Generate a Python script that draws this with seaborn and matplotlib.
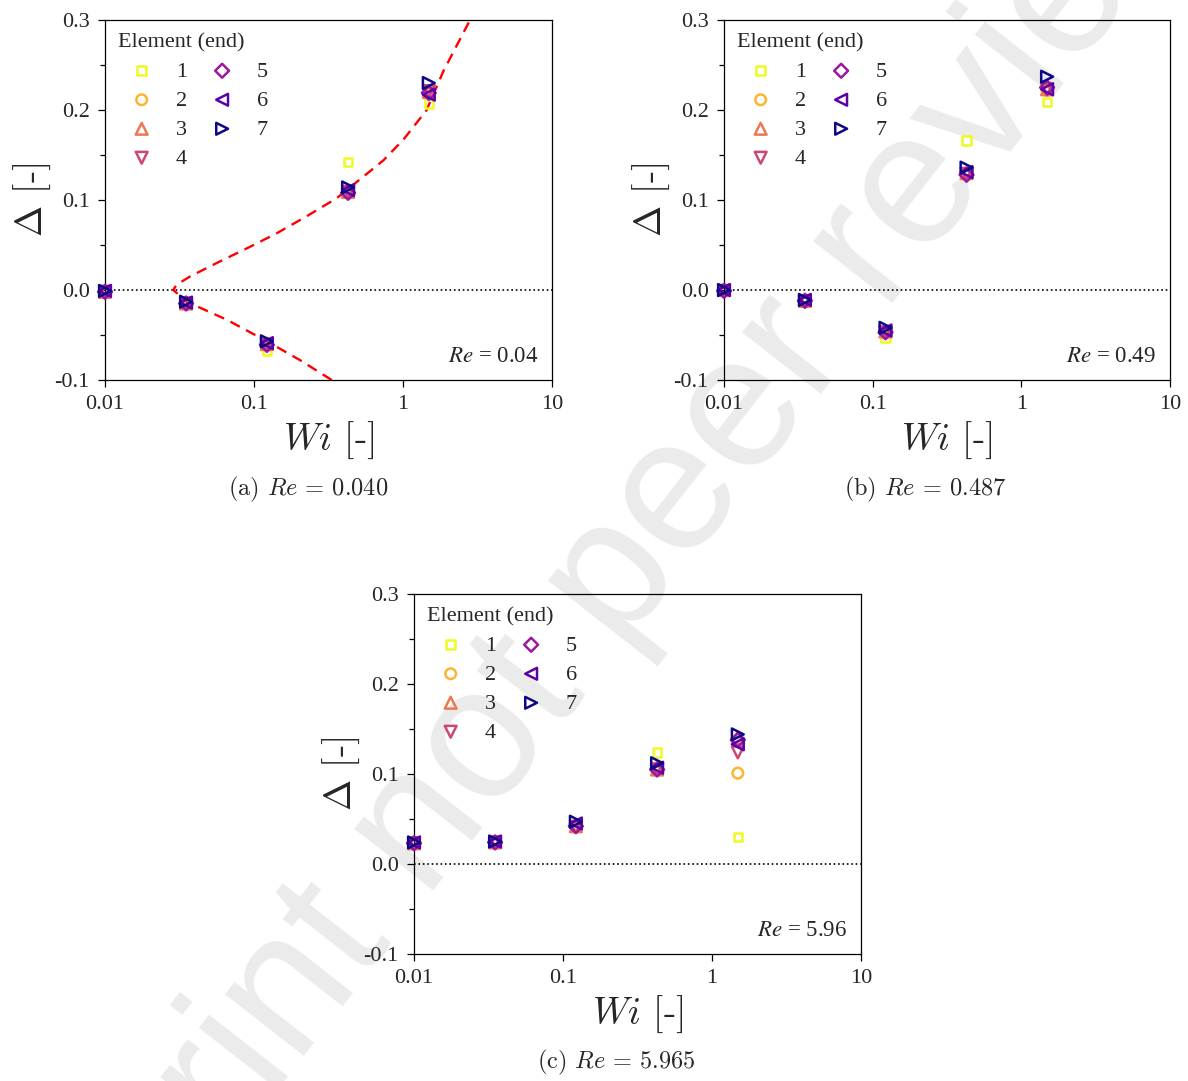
import numpy as np
import pandas as pd
import seaborn as sns
import matplotlib as mpl
import matplotlib.pyplot as plt
from matplotlib.ticker import MultipleLocator, NullLocator

# Weissenberg numbers of the runs (x positions)
wi = [0.01, 0.035, 0.122, 0.428, 1.49]
elements = ['1', '2', '3', '4', '5', '6', '7']

# Delta at the end of each element, one row per element, one column per Wi
delta_a = [
    [-0.001, -0.014, -0.068, 0.142, 0.207],
    [-0.002, -0.015, -0.060, 0.109, 0.220],
    [-0.002, -0.015, -0.060, 0.109, 0.220],
    [-0.002, -0.015, -0.061, 0.109, 0.221],
    [-0.002, -0.015, -0.061, 0.108, 0.219],
    [-0.001, -0.014, -0.059, 0.111, 0.217],
    [-0.001, -0.013, -0.057, 0.114, 0.230],
]
delta_b = [
    [0.000, -0.011, -0.053, 0.166, 0.209],
    [0.000, -0.012, -0.046, 0.130, 0.222],
    [0.000, -0.012, -0.046, 0.130, 0.223],
    [-0.001, -0.013, -0.047, 0.129, 0.223],
    [-0.001, -0.012, -0.047, 0.128, 0.225],
    [0.000, -0.011, -0.045, 0.131, 0.223],
    [0.000, -0.011, -0.042, 0.136, 0.237],
]
delta_c = [
    [0.024, 0.025, 0.044, 0.124, 0.030],
    [0.023, 0.024, 0.043, 0.106, 0.101],
    [0.023, 0.024, 0.042, 0.105, 0.140],
    [0.023, 0.024, 0.041, 0.105, 0.124],
    [0.023, 0.024, 0.042, 0.105, 0.138],
    [0.024, 0.025, 0.045, 0.107, 0.133],
    [0.024, 0.025, 0.047, 0.112, 0.144],
]

# red dashed curve of panel (a) from bottom to top
curve_wi = [0.332, 0.204, 0.122, 0.0656, 0.0353, 0.0287, 0.0303, 0.0372, 0.0562,
            0.094, 0.142, 0.226, 0.359, 0.542, 0.738, 1.005, 1.442, 1.864, 2.817]
curve_delta = [-0.100, -0.078, -0.057, -0.033, -0.013, 0.000, 0.006, 0.015, 0.030,
               0.048, 0.063, 0.082, 0.102, 0.126, 0.144, 0.167, 0.200, 0.243, 0.300]

re_inner = ['0.04', '0.49', '5.96']
re_caption = ['0.040', '0.487', '5.965']
tags = ['(a)', '(b)', '(c)']

markers = ['s', 'o', '^', 'v', 'D', '<', '>']
msizes = [38, 58, 72, 72, 50, 72, 72]
colors = [mpl.colors.to_hex(c) for c in plt.cm.plasma(np.linspace(1, 0, 7))]

sns.set_style('ticks')
plt.rcParams['font.family'] = ['Liberation Serif', 'DejaVu Serif']
plt.rcParams['mathtext.fontset'] = 'stix'
plt.rcParams['axes.unicode_minus'] = False
plt.rcParams['axes.linewidth'] = 0.9
plt.rcParams['axes.edgecolor'] = 'black'


def to_frame(delta):
    rows = []
    for el, vals in zip(elements, delta):
        for w, d in zip(wi, vals):
            rows.append({'Wi': w, 'Delta': d, 'element': el})
    return pd.DataFrame(rows)


fig = plt.figure(figsize=(11.88, 10.81), dpi=100)

# preprint watermark behind everything
fig.text(630 / 1188, 1 - 560 / 1081, 'Preprint not peer reviewed', rotation=52,
         ha='center', va='center', fontsize=136, color='#ebebeb',
         family='Liberation Sans', zorder=-5)

# axes boxes in pixels: left, top, right, bottom
boxes = [(105, 20, 552, 380), (724, 20, 1170, 380), (414, 594, 861, 954)]
caption_x = [308, 925, 616]
caption_y = [489, 489, 1062]

for i, delta in enumerate([delta_a, delta_b, delta_c]):
    l, t, r, b = boxes[i]
    ax = fig.add_axes([l / 1188, 1 - b / 1081, (r - l) / 1188, (b - t) / 1081])
    ax.set_facecolor('none')
    df = to_frame(delta)

    ax.axhline(0, color='black', linestyle=':', linewidth=1.2, zorder=1)
    if i == 0:
        sns.lineplot(x=curve_wi, y=curve_delta, sort=False, color='#ff0000',
                     linewidth=1.7, dashes=False, ax=ax, zorder=2)
        ax.lines[-1].set_dashes((4.5, 3))

    for el, m, sz, c in zip(elements, markers, msizes, colors):
        sub = df[df['element'] == el]
        sns.scatterplot(data=sub, x='Wi', y='Delta', marker=m, s=sz, color=c,
                        facecolor='none', edgecolor=c, linewidth=1.8,
                        label=el, ax=ax, zorder=3, clip_on=False)

    ax.set_xscale('log')
    ax.set_xlim(0.01, 10)
    ax.set_ylim(-0.1, 0.3)
    ax.set_xticks([0.01, 0.1, 1, 10], labels=['0.01', '0.1', '1', '10'])
    ax.xaxis.set_minor_locator(NullLocator())
    yt = [-0.1, 0.0, 0.1, 0.2, 0.3]
    ax.set_yticks(yt, labels=[f'{v:.1f}' for v in yt])
    ax.yaxis.set_minor_locator(MultipleLocator(0.05))
    ax.tick_params(axis='both', which='major', direction='out', length=5,
                   width=0.9, labelsize=16, pad=6, color='black')
    ax.tick_params(axis='y', which='minor', direction='out', length=3.5,
                   width=0.9, color='black')
    for s in ax.spines.values():
        s.set_visible(True)
        s.set_color('black')

    ax.set_xlabel(r'$Wi$ [-]', fontsize=27, fontfamily='cmr10',
                  math_fontfamily='cm', labelpad=4)
    ax.set_ylabel(r'$\Delta$ [-]', fontsize=27, fontfamily='cmr10',
                  math_fontfamily='cm', labelpad=1)

    ax.legend(title='Element (end)', ncol=2, loc='upper left', frameon=False,
              fontsize=16, title_fontsize=16, labelspacing=0.38,
              handlelength=2.1, handletextpad=0.5, columnspacing=0.52,
              borderaxespad=0.3, borderpad=0.3, scatterpoints=1,
              alignment='left')

    ax.text(0.969, 0.035, r'$Re$ = ' + re_inner[i], transform=ax.transAxes,
            ha='right', va='bottom', fontsize=16.5)

    fig.text(caption_x[i] / 1188, 1 - caption_y[i] / 1081,
             tags[i] + r' $Re$ = ' + re_caption[i], ha='center', va='center',
             fontsize=17.5, fontfamily='cmr10', math_fontfamily='cm')

fig.savefig('out.png', dpi=100)
